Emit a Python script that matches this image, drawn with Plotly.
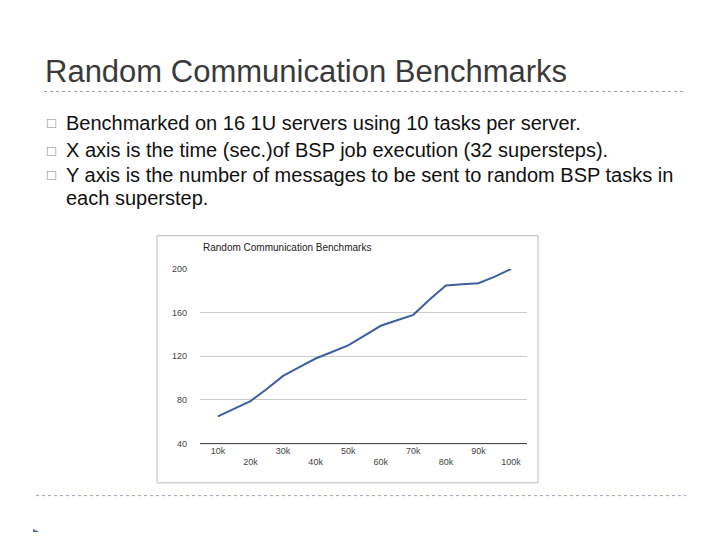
import plotly.graph_objects as go

x_vals = [10000, 15000, 20000, 25000, 30000, 35000, 40000, 45000, 50000, 55000,
          60000, 65000, 70000, 75000, 80000, 85000, 90000, 95000, 100000]
y_vals = [65, 72, 79, 90, 102, 110, 118, 124, 130, 139,
          148, 153, 158, 172, 185, 186, 187, 193, 200]
tick_vals = [10000, 20000, 30000, 40000, 50000, 60000, 70000, 80000, 90000, 100000]
tick_text = ["10k", "<br>20k", "30k", "<br>40k", "50k", "<br>60k", "70k", "<br>80k", "90k", "<br>100k"]
y_ticks = [40, 80, 120, 160, 200]
bullets = ["Benchmarked on 16 1U servers using 10 tasks per server.",
           "X axis is the time (sec.)of BSP job execution (32 supersteps).",
           "Y axis is the number of messages to be sent to random BSP tasks in"]
bullet_cont = "each superstep."

OFF = 8
W, H = 720 - 2 * OFF, 540 - 2 * OFF
def px(v): return (v - OFF) / W
def py(v): return 1 - (v - OFF) / H

fig = go.Figure(go.Scatter(x=x_vals, y=y_vals, mode="lines",
                           line=dict(color="#3f5fa3", width=2), hoverinfo="skip"))
fig.update_layout(
    width=W, height=H, margin=dict(l=0, r=0, t=0, b=0),
    paper_bgcolor="white", plot_bgcolor="white", showlegend=False,
    font=dict(family="Liberation Sans, Arial, sans-serif"),
    xaxis=dict(domain=[px(200), px(527)], range=[4500, 104900], tickvals=tick_vals,
               ticktext=tick_text, showgrid=False, zeroline=False, showline=False,
               tickfont=dict(size=9, color="#444"), ticks=""),
    yaxis=dict(domain=[py(447), py(269)], range=[40, 200], tickvals=y_ticks,
               gridcolor="#cccccc", zeroline=False, showline=False,
               tickfont=dict(size=9, color="#444"), ticks="", ticklabelstandoff=12),
)
shapes = [
    dict(type="rect", xref="paper", yref="paper", x0=px(157), x1=px(538), y0=py(487), y1=py(235),
         line=dict(color="#bbbbbb", width=1), layer="below"),
    dict(type="line", xref="paper", yref="paper", x0=px(200), x1=px(527), y0=py(447), y1=py(447),
         line=dict(color="#333333", width=1)),
    dict(type="line", xref="paper", yref="paper", x0=px(44), x1=px(686), y0=py(88), y1=py(88),
         line=dict(color="#9aa0b8", width=1, dash="dot")),
    dict(type="line", xref="paper", yref="paper", x0=px(36), x1=px(686), y0=py(500), y1=py(500),
         line=dict(color="#9aa0b8", width=1, dash="dot")),
    dict(type="path", xref="paper", yref="paper",
         path=f"M {px(33)},{py(534)} L {px(47)},{py(541)} L {px(33)},{py(548)} Z",
         fillcolor="#4d6a99", line=dict(width=0)),
]
ann = [dict(text="Random Communication Benchmarks", x=px(43), y=py(68), xref="paper", yref="paper",
            xanchor="left", yanchor="middle", showarrow=False, font=dict(size=31, color="#3a3a3a")),
       dict(text="Random Communication Benchmarks", x=px(201), y=py(247), xref="paper", yref="paper",
            xanchor="left", yanchor="middle", showarrow=False, font=dict(size=10, color="#222222"))]
ys = [120, 148, 173]
for yy, t in zip(ys, bullets):
    ann.append(dict(text="□", x=px(45), y=py(yy), xref="paper", yref="paper", xanchor="left",
                    yanchor="middle", showarrow=False, font=dict(size=15, color="#888888")))
    ann.append(dict(text=t, x=px(64), y=py(yy), xref="paper", yref="paper", xanchor="left",
                    yanchor="middle", showarrow=False, font=dict(size=20, color="#111111")))
ann.append(dict(text=bullet_cont, x=px(64), y=py(197), xref="paper", yref="paper", xanchor="left",
                yanchor="middle", showarrow=False, font=dict(size=20, color="#111111")))
fig.update_layout(shapes=shapes, annotations=ann)
fig.write_html("out.html")
